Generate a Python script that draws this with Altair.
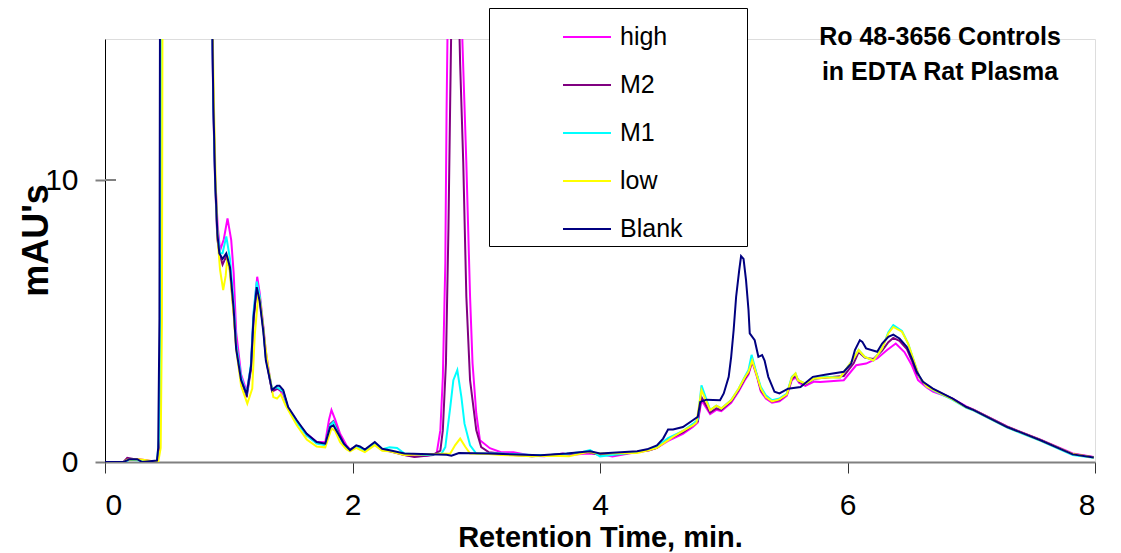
import altair as alt
import pandas as pd

series_names = ["high", "M2", "M1", "low", "Blank"]
series_colors = ["#FF00FF", "#800080", "#00FFFF", "#FFFF00", "#000080"]

x_ticks = [0, 2, 4, 6, 8]
y_ticks = [0, 10]
y_inner_ticks = [10]
title_lines = ["Ro 48-3656 Controls", "in EDTA Rat Plasma"]

high_t = [0, 0.15, 0.18, 0.28, 0.42, 0.44, 0.45, 0.46, 0.5, 0.8, 0.86, 0.875, 0.89, 0.91, 0.93, 0.96, 0.99, 1.02, 1.04, 1.06,
          1.10, 1.145, 1.18, 1.20, 1.23, 1.25, 1.28, 1.30, 1.35, 1.40, 1.44, 1.48, 1.55, 1.63, 1.71, 1.78, 1.81, 1.83, 1.86, 1.9,
          1.95, 1.98, 2.03, 2.10, 2.18, 2.24, 2.30, 2.42, 2.5, 2.6, 2.68, 2.71, 2.73, 2.75, 2.76, 2.77, 2.83, 2.88, 2.92, 2.95,
          2.97, 3.0, 3.03, 3.11, 3.2, 3.3, 3.45, 3.55, 3.7, 3.75, 3.9, 4.0, 4.1, 4.3, 4.38, 4.46, 4.55, 4.67, 4.75, 4.79,
          4.82, 4.89, 4.94, 4.98, 5.06, 5.12, 5.17, 5.20, 5.23, 5.27, 5.30, 5.34, 5.39, 5.45, 5.51, 5.55, 5.58, 5.61, 5.66, 5.73,
          5.78, 5.97, 6.07, 6.15, 6.24, 6.32, 6.39, 6.46, 6.52, 6.57, 6.64, 6.69, 6.85, 6.96, 7.02, 7.29, 7.56, 7.82, 7.99]
high_v = [0, 0, 0.1, 0.1, 0, 0.5, 5, 30, 45, 45, 18, 13, 10.2, 8.4, 7.5, 7.9, 8.64, 7.87, 6.69, 4.6,
          3.1, 2.5, 3.4, 5.2, 6.57, 6.0, 4.8, 3.9, 2.5, 2.6, 2.4, 1.9, 1.4, 1.0, 0.72, 0.7, 1.5, 1.84, 1.5, 1.0,
          0.6, 0.45, 0.55, 0.42, 0.65, 0.45, 0.4, 0.25, 0.2, 0.22, 0.3, 1.13, 3.0, 7.04, 12.37, 16, 40, 16, 10.6, 5.86,
          3.5, 1.73, 0.77, 0.49, 0.35, 0.35, 0.22, 0.2, 0.3, 0.25, 0.3, 0.28, 0.2, 0.35, 0.4, 0.5, 0.75, 1.0, 1.24, 1.4,
          2.19, 1.7, 1.85, 1.8, 2.1, 2.5, 2.9, 3.1, 3.55, 3.0, 2.5, 2.25, 2.1, 2.15, 2.35, 2.9, 3.0, 2.8, 2.7, 2.85,
          2.84, 2.9, 3.43, 3.49, 3.67, 3.97, 4.2, 3.9, 3.43, 2.9, 2.64, 2.5, 2.25, 1.97, 1.86, 1.26, 0.79, 0.3, 0.18]

m2_t = [0, 0.15, 0.18, 0.24, 0.42, 0.44, 0.45, 0.46, 0.5, 0.8, 0.86, 0.875, 0.89, 0.908, 0.93, 0.95, 0.98, 1.01, 1.04, 1.06,
        1.10, 1.145, 1.18, 1.20, 1.226, 1.25, 1.28, 1.30, 1.35, 1.39, 1.44, 1.48, 1.55, 1.63, 1.71, 1.78, 1.82, 1.845, 1.885, 1.93,
        1.98, 2.03, 2.10, 2.18, 2.24, 2.30, 2.42, 2.5, 2.65, 2.71, 2.73, 2.755, 2.775, 2.79, 2.80, 2.83, 2.86, 2.87, 2.895, 2.92,
        2.95, 3.0, 3.04, 3.1, 3.2, 3.3, 3.45, 3.6, 3.75, 3.9, 4.0, 4.1, 4.3, 4.4, 4.46, 4.55, 4.67, 4.75, 4.79, 4.82,
        4.89, 4.94, 4.98, 5.06, 5.12, 5.17, 5.20, 5.23, 5.27, 5.30, 5.34, 5.39, 5.45, 5.51, 5.55, 5.58, 5.61, 5.66, 5.73, 5.83,
        5.97, 6.05, 6.09, 6.14, 6.21, 6.28, 6.33, 6.37, 6.42, 6.48, 6.52, 6.56, 6.61, 6.69, 6.85, 6.96, 7.02, 7.29, 7.56, 7.82, 7.99]
m2_v = [0, 0, 0.15, 0.1, 0, 0.5, 5, 30, 45, 45, 18, 12.6, 9.9, 7.9, 7.3, 7.0, 7.3, 6.8, 5.3, 4.1,
        2.9, 2.3, 3.3, 5.0, 6.2, 5.8, 4.7, 3.7, 2.5, 2.6, 2.5, 1.9, 1.45, 0.95, 0.68, 0.62, 1.35, 1.45, 1.05, 0.65,
        0.42, 0.55, 0.42, 0.65, 0.42, 0.38, 0.25, 0.18, 0.25, 0.4, 1.13, 3.5, 8.2, 12.96, 16, 30, 16, 14.1, 10.6, 5.86,
        2.9, 1.13, 0.53, 0.35, 0.3, 0.25, 0.2, 0.25, 0.28, 0.35, 0.25, 0.25, 0.35, 0.42, 0.5, 0.8, 1.05, 1.3, 1.45, 2.3,
        1.75, 1.9, 1.85, 2.15, 2.55, 2.95, 3.15, 3.6, 3.05, 2.55, 2.3, 2.15, 2.2, 2.4, 2.95, 3.05, 2.85, 2.75, 2.95, 3.0,
        3.05, 3.5, 3.9, 3.7, 3.65, 3.95, 4.25, 4.4, 4.3, 4.0, 3.6, 3.15, 2.82, 2.58, 2.24, 1.95, 1.85, 1.25, 0.78, 0.28, 0.17]

m1_t = [0, 0.15, 0.2, 0.3, 0.42, 0.44, 0.45, 0.46, 0.5, 0.8, 0.86, 0.875, 0.89, 0.908, 0.93, 0.95, 0.98, 1.01, 1.04, 1.06,
        1.10, 1.145, 1.18, 1.20, 1.226, 1.25, 1.28, 1.30, 1.35, 1.39, 1.44, 1.48, 1.55, 1.63, 1.71, 1.78, 1.82, 1.845, 1.885, 1.93,
        1.98, 2.03, 2.10, 2.18, 2.24, 2.30, 2.36, 2.42, 2.6, 2.72, 2.75, 2.79, 2.815, 2.847, 2.88, 2.905, 2.95, 3.0, 3.2, 3.45,
        3.6, 3.75, 3.85, 3.92, 4.0, 4.1, 4.3, 4.4, 4.46, 4.55, 4.67, 4.75, 4.79, 4.82, 4.89, 4.94, 4.98, 5.06, 5.12, 5.17,
        5.20, 5.225, 5.265, 5.30, 5.34, 5.39, 5.45, 5.51, 5.55, 5.58, 5.60, 5.66, 5.73, 5.83, 5.94, 6.05, 6.09, 6.14, 6.21, 6.28,
        6.33, 6.37, 6.44, 6.49, 6.53, 6.58, 6.64, 6.69, 6.85, 6.96, 7.02, 7.29, 7.56, 7.82, 7.99]
m1_v = [0, 0, 0.08, 0.05, 0, 1, 6, 30, 45, 45, 18, 12.9, 10.1, 8.2, 7.4, 7.4, 8.0, 7.2, 5.6, 4.2,
        3.0, 2.4, 3.5, 5.3, 6.4, 5.9, 4.7, 3.7, 2.6, 2.65, 2.5, 1.9, 1.4, 0.95, 0.65, 0.6, 1.3, 1.42, 1.0, 0.6,
        0.42, 0.55, 0.42, 0.68, 0.45, 0.52, 0.5, 0.3, 0.25, 0.3, 0.53, 1.95, 2.9, 3.26, 2.3, 1.36, 0.59, 0.3, 0.3, 0.25,
        0.25, 0.3, 0.35, 0.42, 0.2, 0.25, 0.35, 0.45, 0.55, 0.85, 1.1, 1.35, 1.5, 2.72, 1.84, 2.0, 1.9, 2.2, 2.6, 3.02,
        3.26, 3.8, 3.14, 2.66, 2.37, 2.19, 2.25, 2.43, 3.02, 3.14, 2.9, 2.78, 2.96, 3.02, 2.99, 3.67, 3.97, 3.73, 3.6, 4.03,
        4.6, 4.85, 4.65, 4.2, 3.67, 3.02, 2.68, 2.55, 2.2, 1.92, 1.82, 1.22, 0.75, 0.25, 0.15]

low_t = [0, 0.15, 0.18, 0.28, 0.43, 0.45, 0.46, 0.47, 0.5, 0.8, 0.86, 0.88, 0.895, 0.91, 0.93, 0.955, 0.975, 0.99, 1.01, 1.04,
         1.06, 1.10, 1.15, 1.19, 1.21, 1.24, 1.26, 1.29, 1.32, 1.36, 1.39, 1.42, 1.46, 1.55, 1.63, 1.71, 1.78, 1.83, 1.86, 1.9,
         1.95, 1.98, 2.03, 2.10, 2.18, 2.24, 2.30, 2.42, 2.79, 2.83, 2.87, 2.91, 2.95, 3.1, 3.2, 3.45, 3.6, 3.75, 3.9, 4.0,
         4.3, 4.4, 4.46, 4.59, 4.67, 4.75, 4.78, 4.82, 4.89, 4.94, 4.98, 5.06, 5.12, 5.17, 5.20, 5.23, 5.265, 5.30, 5.34, 5.39,
         5.45, 5.51, 5.55, 5.58, 5.60, 5.66, 5.73, 5.83, 5.94, 6.05, 6.09, 6.14, 6.21, 6.28, 6.33, 6.37, 6.44, 6.49, 6.53, 6.58,
         6.64, 6.69, 6.85, 6.96, 7.02, 7.29, 7.56, 7.82, 7.99]
low_v = [0, 0, 0.08, 0.1, 0, 0.5, 5, 30, 45, 45, 18, 12.7, 9.8, 7.9, 6.8, 6.1, 6.6, 7.3, 6.7, 5.2,
         4.0, 2.7, 2.07, 2.6, 4.5, 5.98, 5.5, 4.3, 3.3, 2.3, 2.25, 2.4, 2.0, 1.3, 0.8, 0.55, 0.52, 1.19, 1.1, 0.7,
         0.45, 0.38, 0.5, 0.35, 0.6, 0.4, 0.38, 0.25, 0.3, 0.6, 0.83, 0.55, 0.3, 0.28, 0.25, 0.2, 0.22, 0.2, 0.35, 0.3,
         0.32, 0.42, 0.5, 0.89, 1.1, 1.3, 1.4, 2.55, 1.84, 2.0, 1.9, 2.19, 2.6, 3.0, 3.2, 3.6, 3.1, 2.6, 2.3, 2.15,
         2.22, 2.4, 3.0, 3.14, 2.9, 2.78, 2.96, 3.0, 3.0, 3.67, 3.97, 3.73, 3.6, 4.03, 4.56, 4.79, 4.62, 4.2, 3.67, 3.02,
         2.68, 2.57, 2.22, 1.94, 1.84, 1.24, 0.77, 0.28, 0.16]

blank_t = [0, 0.15, 0.20, 0.26, 0.30, 0.42, 0.43, 0.44, 0.45, 0.5, 0.8, 0.86, 0.875, 0.89, 0.908, 0.924, 0.95, 0.98, 1.01, 1.04,
           1.06, 1.10, 1.145, 1.18, 1.20, 1.226, 1.25, 1.28, 1.30, 1.35, 1.39, 1.41, 1.44, 1.48, 1.55, 1.63, 1.71, 1.78, 1.82, 1.845,
           1.885, 1.93, 1.98, 2.03, 2.06, 2.10, 2.18, 2.24, 2.30, 2.42, 2.76, 2.80, 2.86, 3.10, 3.52, 3.73, 3.92, 4.0, 4.30, 4.38,
           4.46, 4.51, 4.55, 4.59, 4.67, 4.75, 4.79, 4.81, 4.86, 4.97, 5.0, 5.04, 5.06, 5.08, 5.10, 5.125, 5.14, 5.16, 5.18, 5.20,
           5.21, 5.25, 5.28, 5.31, 5.33, 5.36, 5.41, 5.45, 5.52, 5.62, 5.72, 5.83, 5.97, 6.03, 6.06, 6.10, 6.12, 6.15, 6.24, 6.28,
           6.33, 6.37, 6.42, 6.48, 6.52, 6.56, 6.61, 6.69, 6.85, 6.96, 7.02, 7.29, 7.56, 7.82, 7.99]
blank_v = [0, 0, 0.1, 0.1, 0, 0.05, 0.5, 5.1, 30, 45, 45, 18, 12.8, 10.0, 8.1, 7.4, 7.2, 7.4, 6.9, 5.4,
           4.0, 2.9, 2.4, 3.4, 5.1, 6.2, 5.7, 4.6, 3.6, 2.55, 2.7, 2.7, 2.55, 1.95, 1.48, 1.0, 0.71, 0.65, 1.24, 1.3,
           1.0, 0.65, 0.42, 0.59, 0.55, 0.44, 0.71, 0.47, 0.42, 0.3, 0.26, 0.22, 0.32, 0.3, 0.24, 0.3, 0.38, 0.3, 0.38, 0.45,
           0.59, 0.83, 1.15, 1.15, 1.24, 1.48, 1.6, 2.13, 2.21, 2.19, 2.43, 3.02, 3.73, 4.68, 5.86, 6.8, 7.3, 7.2, 6.45, 5.39,
           4.56, 4.32, 3.73, 3.79, 3.6, 3.02, 2.49, 2.43, 2.6, 2.66, 3.02, 3.1, 3.2, 3.49, 3.97, 4.32, 4.26, 4.03, 3.91, 4.2,
           4.44, 4.52, 4.38, 4.08, 3.67, 3.2, 2.84, 2.6, 2.25, 1.95, 1.84, 1.24, 0.77, 0.27, 0.16]

series_data = {
    "high": (high_t, high_v),
    "M2": (m2_t, m2_v),
    "M1": (m1_t, m1_v),
    "low": (low_t, low_v),
    "Blank": (blank_t, blank_v),
}

rows = []
for name in series_names:
    ts, vs = series_data[name]
    for i, (t, v) in enumerate(zip(ts, vs)):
        rows.append({"series": name, "t": t, "v": v, "i": i})
df = pd.DataFrame(rows)

FONT = "Liberation Sans"

x_enc = alt.X(
    "t:Q",
    scale=alt.Scale(domain=[0, 8], nice=False, zero=False),
    axis=alt.Axis(
        values=x_ticks, format="d", title="Retention Time, min.",
        labelFontSize=30, labelFont=FONT, labelColor="black", labelPadding=17,
        tickSize=11, tickColor="#333333", tickWidth=1,
        domainColor="#808080", domainWidth=2, grid=False,
        titleFontSize=29, titleFont=FONT, titleFontWeight="bold", titleColor="black",
        titleX=495, titleY=84, titleBaseline="alphabetic", titleAlign="center", titleAnchor="middle",
    ),
)
y_enc = alt.Y(
    "v:Q",
    scale=alt.Scale(domain=[0, 15], nice=False, zero=True),
    axis=alt.Axis(
        values=y_ticks, format="d", title="mAU's",
        labelFontSize=30, labelFont=FONT, labelColor="black", labelPadding=17,
        tickSize=10, tickColor="#808080", tickWidth=2,
        domainColor="black", domainWidth=1, grid=False,
        titleFontSize=36, titleFont=FONT, titleFontWeight="bold", titleColor="black",
        titleX=-58, titleY=201, titleBaseline="alphabetic", titleAlign="center", titleAngle=270,
    ),
)
color_enc = alt.Color(
    "series:N",
    scale=alt.Scale(domain=series_names, range=series_colors),
    legend=alt.Legend(
        orient="none", legendX=384, legendY=-31,
        title=" ", titleOrient="right", titlePadding=60, titleFontSize=10,
        symbolType="stroke", symbolSize=2304, symbolStrokeWidth=2, symbolOffset=69,
        labelOffset=8, labelFontSize=25, labelFont=FONT, labelColor="black", labelLimit=0,
        padding=4, rowPadding=10, strokeColor="black", fillColor="white",
    ),
)

layers = []
for name in series_names:
    layers.append(
        alt.Chart(df).transform_filter(alt.datum.series == name)
        .mark_line(clip=True, strokeWidth=2)
        .encode(x=x_enc, y=y_enc, color=color_enc, order="i:Q")
    )

inner_tick = alt.Chart(pd.DataFrame({"v": y_inner_ticks})).mark_rule(color="#808080", strokeWidth=2).encode(
    y="v:Q", x=alt.value(0), x2=alt.value(11)
)

title_text = alt.Chart(pd.DataFrame({"k": [0]})).mark_text(
    align="center", baseline="middle", fontSize=25, fontWeight="bold", font=FONT,
    lineHeight=35, color="black",
).encode(x=alt.value(835), y=alt.value(-2), text=alt.value(title_lines))

chart = alt.layer(*layers, inner_tick, title_text).properties(
    width=990, height=423,
    autosize=alt.AutoSizeParams(type="none"),
    padding={"left": 97, "top": 31, "right": 18, "bottom": 90},
).configure_view(stroke=None).configure(font=FONT)

chart.save("out.html", embed_options={"renderer": "svg", "actions": False})
